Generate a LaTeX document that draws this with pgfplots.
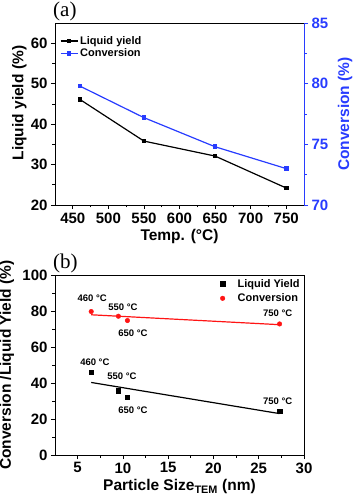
\documentclass[border=0pt]{standalone}
\usepackage{fontspec}
\setmainfont{Liberation Sans}
\newfontfamily\timesfont{Liberation Serif}
\usepackage{pgfplots}
\pgfplotsset{compat=1.18}
\definecolor{convblue}{RGB}{40,60,255}
\definecolor{convred}{RGB}{255,20,20}

\pgfplotsset{
  panel/.style={
    scale only axis, width=249pt, clip=false,
    tick align=outside, major tick length=4pt, minor tick length=2.5pt,
    minor tick num=1,
    /pgf/number format/assume math mode=true,
    tick label style={font=\bfseries\fontsize{15}{15}\selectfont},
    label style={font=\bfseries\fontsize{15.5}{16}\selectfont, inner sep=0pt},
    axis line style={line width=0.7pt},
    every tick/.style={line width=0.7pt},
  },
  dotlegend/.style={legend image code/.code={
      \path[draw=none] (0pt,0pt) -- (16pt,0pt);
      \path[##1, draw=none] plot coordinates {(3pt,0pt)};}},
}
\tikzset{tlab/.style={font=\bfseries\fontsize{9.5}{10}\selectfont, inner sep=0pt}}

\begin{document}
\begin{tikzpicture}
\path[use as bounding box] (-55pt,-297pt) rectangle (300pt,205pt);

% ---- (a) liquid yield and conversion against temperature
\begin{axis}[panel, height=182pt, at={(0pt,0pt)}, anchor=south west,
  xmin=425, xmax=775, ymin=20, ymax=65,
  xtick={450,500,...,750}, ytick={20,30,...,60},
  xtick pos=bottom, ytick pos=left,
  xlabel={Temp. (°C)}, ylabel={Liquid yield (\%)},
  xlabel style={at={(axis description cs:0.5,-0.13)}, anchor=north},
  ylabel style={at={(axis description cs:-0.113,0.56)}, anchor=south},
]
\addplot[black, line width=1.2pt, mark=square*, mark size=1.7pt]
  coordinates {(460,46.1) (550,35.8) (650,32.1) (750,24.2)};
\node[anchor=south west, inner sep=0pt, font=\timesfont\fontsize{21}{21}\selectfont]
  at (rel axis cs:0,1) [xshift=-2pt, yshift=2pt] {(a)};
\end{axis}
\begin{axis}[panel, height=182pt, at={(0pt,0pt)}, anchor=south west,
  xmin=425, xmax=775, ymin=70, ymax=85,
  ytick={70,75,80,85},
  axis x line=none, axis y line*=right,
  y axis line style={convblue}, ytick style={convblue},
  yticklabel style={convblue},
  ylabel={Conversion (\%)},
  ylabel style={convblue, at={(axis description cs:1.135,0.5)}, anchor=north},
  legend style={at={(axis description cs:0.015,0.945)}, anchor=north west,
    draw=none, fill=none, font=\bfseries\fontsize{11}{12}\selectfont,
    row sep=-1pt, inner sep=1pt},
  legend cell align=left,
]
\addlegendimage{black, line width=1.2pt, mark=square*, mark size=1.7pt}
\addlegendentry{Liquid yield}
\addplot[convblue, line width=1.2pt, mark=square*, mark size=1.7pt]
  coordinates {(460,79.8) (550,77.2) (650,74.8) (750,73.0)};
\addlegendentry{Conversion}
\end{axis}

% ---- (b) against particle size
\begin{axis}[panel, height=180pt, at={(0pt,-250pt)}, anchor=south west,
  xmin=2.5, xmax=30, ymin=0, ymax=100,
  xtick={5,10,...,30}, ytick={0,20,...,100},
  xtick pos=bottom, ytick pos=left,
  xlabel={Particle Size\textsubscript{TEM} (nm)},
  ylabel={Conversion /Liquid Yield (\%)},
  xlabel style={at={(axis description cs:0.5,-0.135)}, anchor=north},
  ylabel style={at={(axis description cs:-0.163,0.5)}, anchor=south},
  dotlegend,
  legend style={at={(axis description cs:0.995,0.995)}, anchor=north east,
    draw=none, fill=none, font=\bfseries\fontsize{11}{12}\selectfont,
    row sep=1pt, inner sep=1pt},
  legend cell align=left,
]
\addplot[only marks, black, mark=square*, mark size=2.2pt]
  coordinates {(6.5,46.0) (9.5,35.8) (10.5,32.0) (27.3,24.2)};
\addlegendentry{Liquid Yield}
\addplot[only marks, convred, mark=*, mark size=2.3pt]
  coordinates {(6.5,79.7) (9.5,77.1) (10.5,74.7) (27.3,72.8)};
\addlegendentry{Conversion}
\addplot[black, line width=1.2pt, forget plot] coordinates {(6.5,40.3) (27.3,23.0)};
\addplot[convred, line width=1.2pt, forget plot] coordinates {(6.5,77.9) (27.3,72.4)};
\node[tlab] at (axis cs:6.6,87.2) {460 °C};
\node[tlab] at (axis cs:10.0,82.2) {550 °C};
\node[tlab] at (axis cs:11.1,67.9) {650 °C};
\node[tlab] at (axis cs:27.1,78.5) {750 °C};
\node[tlab] at (axis cs:6.9,51.7) {460 °C};
\node[tlab] at (axis cs:9.9,43.9) {550 °C};
\node[tlab] at (axis cs:11.1,25.1) {650 °C};
\node[tlab] at (axis cs:27.1,29.9) {750 °C};
\node[anchor=south west, inner sep=0pt, font=\timesfont\fontsize{21}{21}\selectfont]
  at (rel axis cs:0,1) [xshift=-2pt, yshift=2pt] {(b)};
\end{axis}
\end{tikzpicture}
\end{document}
